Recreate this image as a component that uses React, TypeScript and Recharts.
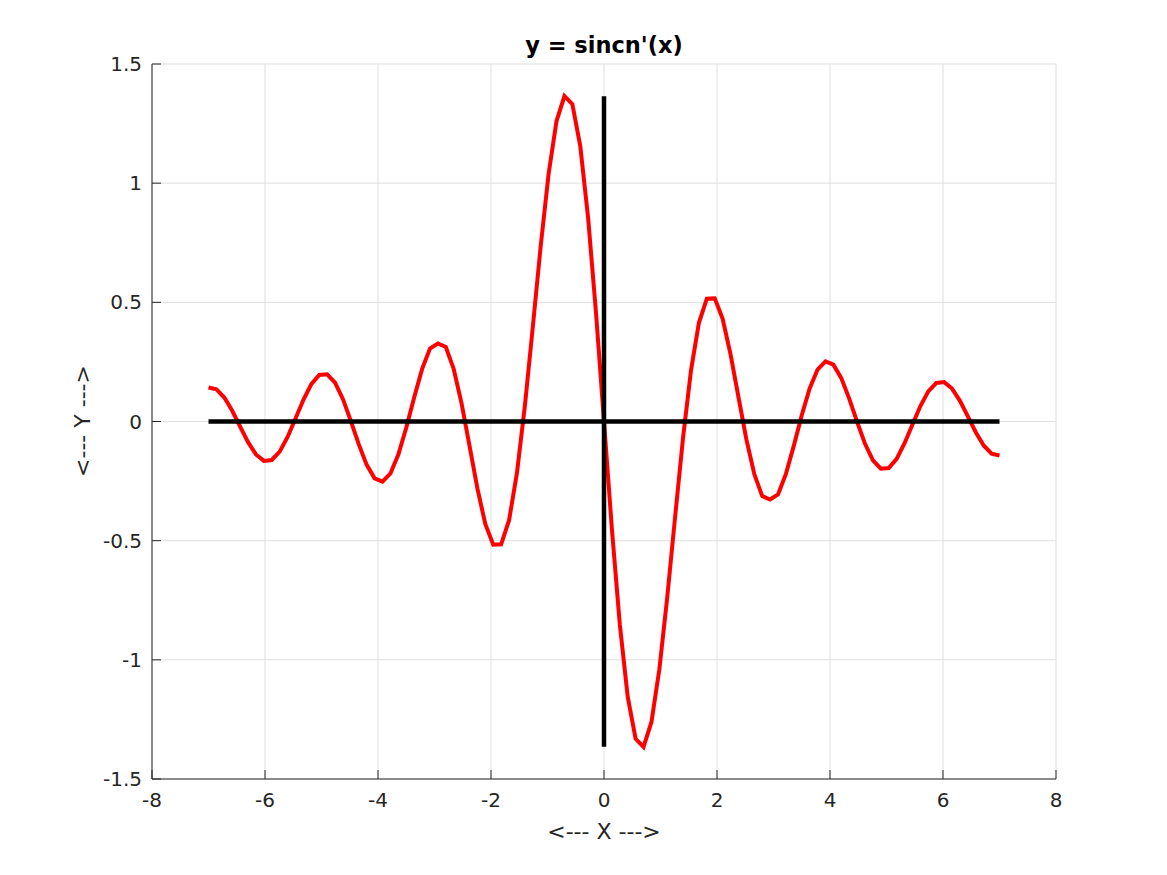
import React from "react";
import {LineChart, Line, XAxis, YAxis, CartesianGrid} from "recharts";

// x = -7:0.14:7
const xValues = [
  -7, -6.86, -6.72, -6.58, -6.44, -6.3, -6.16, -6.02, -5.88, -5.74, -5.6, -5.46, -5.32, -5.18, -5.04,
  -4.9, -4.76, -4.62, -4.48, -4.34, -4.2, -4.06, -3.92, -3.78, -3.64, -3.5, -3.36, -3.22, -3.08, -2.94,
  -2.8, -2.66, -2.52, -2.38, -2.24, -2.1, -1.96, -1.82, -1.68, -1.54, -1.4, -1.26, -1.12, -0.98, -0.84,
  -0.7, -0.56, -0.42, -0.28, -0.14, 0, 0.14, 0.28, 0.42, 0.56, 0.7, 0.84, 0.98, 1.12, 1.26, 1.4, 1.54,
  1.68, 1.82, 1.96, 2.1, 2.24, 2.38, 2.52, 2.66, 2.8, 2.94, 3.08, 3.22, 3.36, 3.5, 3.64, 3.78, 3.92,
  4.06, 4.2, 4.34, 4.48, 4.62, 4.76, 4.9, 5.04, 5.18, 5.32, 5.46, 5.6, 5.74, 5.88, 6.02, 6.16, 6.3,
  6.44, 6.58, 6.72, 6.86, 7,
];

const sincnPrime = [
  0.1429, 0.1348, 0.1003, 0.0449, -0.0216, -0.0868, -0.1382, -0.1652, -0.1615, -0.1263, -0.0648, 0.0124,
  0.0912, 0.1566, 0.1953, 0.1982, 0.1628, 0.0936, 0.0018, -0.0962, -0.182, -0.2383, -0.2522, -0.218,
  -0.1387, -0.026, 0.1012, 0.2197, 0.3061, 0.3272, 0.3128, 0.2205, 0.075, -0.1024, -0.282, -0.4306,
  -0.5166, -0.5154, -0.4142, -0.2145, 0.0663, 0.3971, 0.7367, 1.0392, 1.2606, 1.3652, 1.3317, 1.1557,
  0.8518, 0.4517, 0, -0.4517, -0.8518, -1.1557, -1.3317, -1.3652, -1.2606, -1.0392, -0.7367, -0.3971,
  -0.0663, 0.2145, 0.4142, 0.5154, 0.5166, 0.4306, 0.282, 0.1024, -0.075, -0.2205, -0.3128, -0.3272,
  -0.3061, -0.2197, -0.1012, 0.026, 0.1387, 0.218, 0.2522, 0.2383, 0.182, 0.0962, -0.0018, -0.0936,
  -0.1628, -0.1982, -0.1953, -0.1566, -0.0912, -0.0124, 0.0648, 0.1263, 0.1615, 0.1652, 0.1382, 0.0868,
  0.0216, -0.0449, -0.1003, -0.1348, -0.1429,
];

// black reference axes
const hAxisX = [-7, 7];
const hAxisY = [0, 0];
const vAxisX = [0, 0];
const vAxisY = [-1.3652, 1.3652];

const xTicks = [-8, -6, -4, -2, 0, 2, 4, 6, 8];
const yTicks = [-1.5, -1, -0.5, 0, 0.5, 1, 1.5];

const curve = xValues.map((x, i) => ({x, y: sincnPrime[i]}));
const hAxis = hAxisX.map((x, i) => ({x, y: hAxisY[i]}));
const vAxis = vAxisX.map((x, i) => ({x, y: vAxisY[i]}));

const FONT = "'DejaVu Sans', sans-serif";
const INK = "#262626";

export default function App() {
  return (
    <div style={{position: "absolute", left: 0, top: 0, width: 1160, height: 870, fontFamily: FONT}}>
      <LineChart width={1160} height={870} margin={{top: 64, right: 104, bottom: 31, left: 92}}>
        <CartesianGrid stroke="#dfdfdf" strokeWidth={1} />
        <XAxis
          type="number"
          dataKey="x"
          domain={[-8, 8]}
          ticks={xTicks}
          allowDataOverflow
          height={60}
          stroke={INK}
          tickSize={-9}
          tickMargin={23}
          tick={{fill: INK, fontSize: 20, fontFamily: FONT}}
        />
        <YAxis
          type="number"
          dataKey="y"
          domain={[-1.5, 1.5]}
          ticks={yTicks}
          allowDataOverflow
          width={60}
          stroke={INK}
          tickSize={-9}
          tickMargin={19}
          tick={{fill: INK, fontSize: 20, fontFamily: FONT}}
        />
        <Line data={curve} dataKey="y" stroke="#ff0000" strokeWidth={4} dot={false} isAnimationActive={false} />
        <Line data={hAxis} dataKey="y" stroke="#000000" strokeWidth={4.5} dot={false} isAnimationActive={false} />
        <Line data={vAxis} dataKey="y" stroke="#000000" strokeWidth={4.5} dot={false} isAnimationActive={false} />
      </LineChart>
      <div
        style={{position: "absolute", left: 404, width: 400, top: 31, textAlign: "center",
          fontWeight: "bold", fontSize: 22.5, color: "#000", lineHeight: "28px"}}
      >
        y = sincn'(x)
      </div>
      <div
        style={{position: "absolute", left: 404, width: 400, top: 818, textAlign: "center",
          fontSize: 22, color: INK, lineHeight: "28px"}}
      >
        {"<--- X --->"}
      </div>
      <div
        style={{position: "absolute", left: 83 - 200, width: 400, top: 421 - 14, textAlign: "center",
          fontSize: 22, color: INK, lineHeight: "28px", transform: "rotate(-90deg)"}}
      >
        {"<--- Y --->"}
      </div>
    </div>
  );
}
